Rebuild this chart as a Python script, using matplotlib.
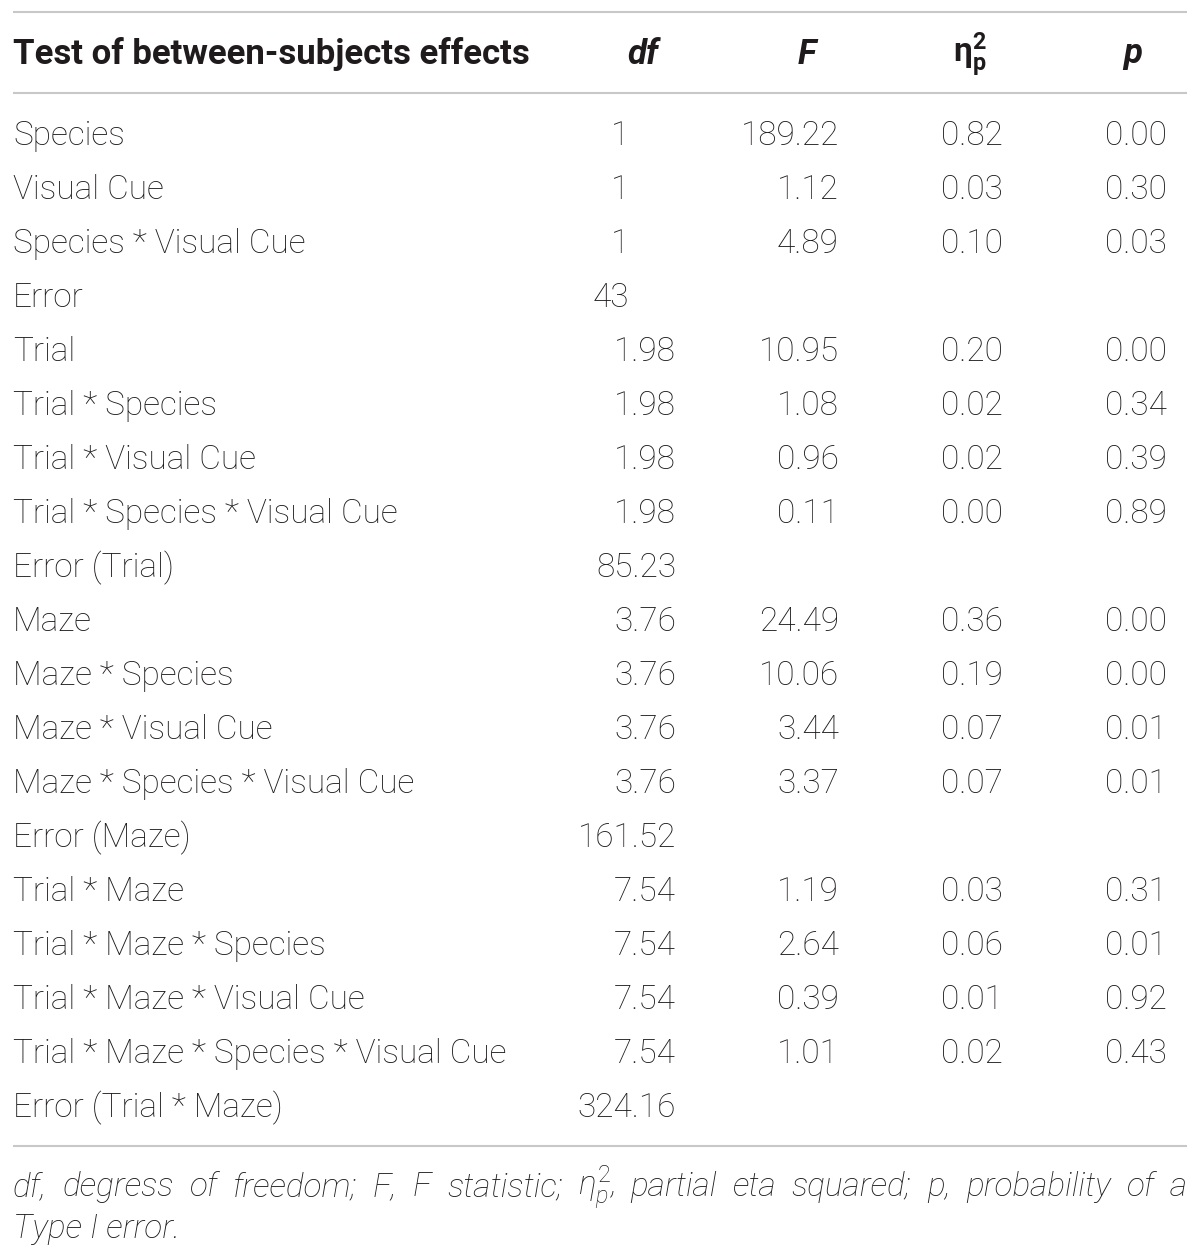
import matplotlib
matplotlib.use("Agg")
import matplotlib.pyplot as plt

# table content
effects = ["Species", "Visual Cue", "Species * Visual Cue", "Error",
           "Trial", "Trial * Species", "Trial * Visual Cue",
           "Trial * Species * Visual Cue", "Error (Trial)",
           "Maze", "Maze * Species", "Maze * Visual Cue",
           "Maze * Species * Visual Cue", "Error (Maze)",
           "Trial * Maze", "Trial * Maze * Species", "Trial * Maze * Visual Cue",
           "Trial * Maze * Species * Visual Cue", "Error (Trial * Maze)"]
df_vals = ["1", "1", "1", "43", "1.98", "1.98", "1.98", "1.98", "85.23",
           "3.76", "3.76", "3.76", "3.76", "161.52",
           "7.54", "7.54", "7.54", "7.54", "324.16"]
f_vals = ["189.22", "1.12", "4.89", "", "10.95", "1.08", "0.96", "0.11", "",
          "24.49", "10.06", "3.44", "3.37", "", "1.19", "2.64", "0.39", "1.01", ""]
eta_vals = ["0.82", "0.03", "0.10", "", "0.20", "0.02", "0.02", "0.00", "",
            "0.36", "0.19", "0.07", "0.07", "", "0.03", "0.06", "0.01", "0.02", ""]
p_vals = ["0.00", "0.30", "0.03", "", "0.00", "0.34", "0.39", "0.89", "",
          "0.00", "0.00", "0.01", "0.01", "", "0.31", "0.01", "0.92", "0.43", ""]

header_label = "Test of between-subjects effects"
footnote_words = ["df,", "degress", "of", "freedom;", "F,", "F", "statistic;",
                  r"$\eta^2_p$,", "partial", "eta", "squared;", "p,", "probability",
                  "of", "a"]
footnote_line2 = "Type I error."

W, H = 1200, 1258
fig = plt.figure(figsize=(W / 100, H / 100), dpi=100)
ax = fig.add_axes([0, 0, 1, 1])
ax.set_xlim(0, W)
ax.set_ylim(H, 0)
ax.axis("off")

plt.rcParams["mathtext.fontset"] = "custom"
plt.rcParams["mathtext.rm"] = "Roboto:light"
plt.rcParams["mathtext.it"] = "Roboto:italic:light"
plt.rcParams["mathtext.bf"] = "Roboto:bold"

FONT = "Roboto"
FS = 24
INK = "#1f1b1c"
txt = dict(family=FONT, fontsize=FS, color=INK, weight="light")
line_col = "#c8c8c8"

# horizontal rules
for y in (12, 93, 1146):
    ax.plot([13, 1187], [y, y], color=line_col, lw=1.5, solid_capstyle="butt")

# header
hy = 54
hdr = dict(family=FONT, fontsize=25, weight="bold", color=INK)
ax.text(13, hy, header_label, ha="left", va="center", **hdr)
ax.text(643, hy, "df", ha="center", va="center", style="italic", **hdr)
ax.text(807, hy, "F", ha="center", va="center", style="italic", **hdr)
ax.text(970, hy, r"$\mathbf{\eta^2_p}$", ha="center", va="center", fontsize=FS,
        color=INK)
ax.text(1133, hy, "p", ha="center", va="center", style="italic", **hdr)

# rows
y0, step = 136, 54
for i, name in enumerate(effects):
    y = y0 + i * step
    ax.text(13, y, name, ha="left", va="center", **txt)
    d = df_vals[i]
    ax.text(676 if "." in d else 629, y, d, ha="right", va="center", **txt)
    ax.text(839, y, f_vals[i], ha="right", va="center", **txt)
    ax.text(1003, y, eta_vals[i], ha="right", va="center", **txt)
    ax.text(1167, y, p_vals[i], ha="right", va="center", **txt)

# footnote, first line justified between the margins
fn = dict(family=FONT, fontsize=FS, color=INK, weight="light", style="italic")
fig.canvas.draw()
renderer = fig.canvas.get_renderer()
items = [ax.text(0, 1187, w, ha="left", va="center", **fn) for w in footnote_words]
widths = [t.get_window_extent(renderer).width for t in items]
gap = (1187 - 13 - sum(widths)) / (len(items) - 1)
x = 13
for t, w in zip(items, widths):
    t.set_x(x)
    x += w + gap
ax.text(13, 1229, footnote_line2, ha="left", va="center", **fn)

fig.savefig("out.png", dpi=100)
